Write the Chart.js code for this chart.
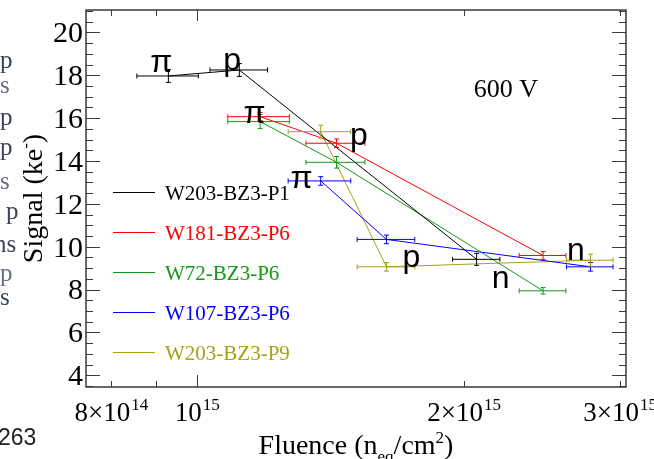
<!DOCTYPE html>
<html>
<head>
<meta charset="utf-8">
<script src="https://cdn.jsdelivr.net/npm/chart.js@4.4.1/dist/chart.umd.min.js"></script>
<style>
  html, body { margin: 0; padding: 0; background: #fff; }
  #wrap { width: 654px; height: 459px; position: relative; }
</style>
</head>
<body>
<div id="wrap"><canvas id="chart"></canvas></div>
<script>
// ---- data ----
const seriesNames = ['W203-BZ3-P1', 'W181-BZ3-P6', 'W72-BZ3-P6', 'W107-BZ3-P6', 'W203-BZ3-P9'];
const seriesColors = ['#000000', '#ff0000', '#129a12', '#0000ff', '#a3a314'];

// fluence (n_eq/cm2) with lower / upper error limits, signal (ke-) with error
const fluP1 = [9.29e14, 1.117e15, 2.069e15];
const fluP1Lo = [8.56e14, 1.035e15, 1.944e15];
const fluP1Hi = [1.004e15, 1.202e15, 2.198e15];
const sigP1 = [17.97, 18.25, 9.41];
const errP1 = [0.3, 0.3, 0.28];

const fluW181 = [1.179e15, 1.438e15, 2.459e15];
const fluW181Lo = [1.084e15, 1.328e15, 2.311e15];
const fluW181Hi = [1.272e15, 1.548e15, 2.609e15];
const sigW181 = [16.07, 14.83, 9.59];
const errW181 = [0.2, 0.2, 0.18];

const fluW72 = [1.179e15, 1.438e15, 2.459e15];
const fluW72Lo = [1.084e15, 1.328e15, 2.311e15];
const fluW72Hi = [1.272e15, 1.548e15, 2.609e15];
const sigW72 = [15.84, 13.94, 7.94];
const errW72 = [0.33, 0.27, 0.15];

const fluW107 = [1.38e15, 1.637e15, 2.781e15];
const fluW107Lo = [1.268e15, 1.517e15, 2.613e15];
const fluW107Hi = [1.492e15, 1.762e15, 2.949e15];
const sigW107 = [13.07, 10.34, 9.06];
const errW107 = [0.2, 0.2, 0.2];

const fluP9 = [1.38e15, 1.637e15, 2.781e15];
const fluP9Lo = [1.268e15, 1.517e15, 2.613e15];
const fluP9Hi = [1.492e15, 1.762e15, 2.949e15];
const sigP9 = [15.37, 9.06, 9.37];
const errP9 = [0.3, 0.2, 0.28];

// particle type labels next to points
const markLabels = ['\u03c0', 'p', '\u03c0', 'p', '\u03c0', 'p', 'n', 'n'];
const markX = [9.12e14, 1.096e15, 1.162e15, 1.524e15, 1.313e15, 1.747e15, 2.202e15, 2.677e15];
const markY = [18.17, 18.25, 15.76, 14.75, 12.72, 9.06, 8.05, 9.37];

// axis ticks
const yTickLabels = [4, 6, 8, 10, 12, 14, 16, 18, 20];
const xTickValues = [8e14, 1e15, 2e15, 3e15];
const xTickMant = ['8', '', '2', '3'];
const xTickExp = ['14', '15', '15', '15'];
const xMajorTicks = [1e15];
const xMinorTicks = [8e14, 9e14, 2e15, 3e15];

// stray text from the neighbouring page column
const strayText = ['p', 's', 'p', 'p', 's', 'p', 'ns', 'p', 's'];
const strayY = [68, 93, 125, 155, 189, 219, 252, 281, 305];
const strayX = [0, 0, 0, 0, 0, 6, -6, 0, 0];

const fluAll = [fluP1, fluW181, fluW72, fluW107, fluP9];
const fluLoAll = [fluP1Lo, fluW181Lo, fluW72Lo, fluW107Lo, fluP9Lo];
const fluHiAll = [fluP1Hi, fluW181Hi, fluW72Hi, fluW107Hi, fluP9Hi];
const sigAll = [sigP1, sigW181, sigW72, sigW107, sigP9];
const errAll = [errP1, errW181, errW72, errW107, errP9];

const datasets = seriesNames.map((name, i) => ({
  label: name,
  data: fluAll[i].map((f, j) => ({ x: f, y: sigAll[i][j] })),
  xLo: fluLoAll[i],
  xHi: fluHiAll[i],
  yErr: errAll[i],
  showLine: true,
  borderColor: seriesColors[i],
  borderWidth: 1,
  pointRadius: 0,
  tension: 0,
  fill: false
}));

const SERIF = '"Liberation Serif", "Times New Roman", serif';
const SANS = '"Liberation Sans", Arial, sans-serif';

// draws "m×10^e" centred at cx
function drawPow(ctx, mant, exp, cx, base) {
  const main = mant ? mant + '\u00d710' : '10';
  ctx.font = '27px ' + SERIF;
  const w1 = ctx.measureText(main).width;
  ctx.font = '17px ' + SERIF;
  const w2 = ctx.measureText(exp).width;
  const x0 = cx - (w1 + w2) / 2;
  ctx.textAlign = 'left';
  ctx.textBaseline = 'alphabetic';
  ctx.font = '27px ' + SERIF;
  ctx.fillText(main, x0, base);
  ctx.font = '17px ' + SERIF;
  ctx.fillText(exp, x0 + w1 + 1, base - 11);
}

// draws a run of [text, size, dy] pieces centred at cx
function drawPieces(ctx, pieces, cx, base) {
  let total = 0;
  pieces.forEach(p => { ctx.font = p[1] + 'px ' + SERIF; total += ctx.measureText(p[0]).width; });
  let x0 = cx - total / 2;
  ctx.textAlign = 'left';
  ctx.textBaseline = 'alphabetic';
  pieces.forEach(p => {
    ctx.font = p[1] + 'px ' + SERIF;
    ctx.fillText(p[0], x0, base + p[2]);
    x0 += ctx.measureText(p[0]).width;
  });
}

const rootStyle = {
  id: 'rootStyle',
  afterDatasetsDraw(chart) {
    const { ctx, chartArea: a, scales: { x, y } } = chart;
    ctx.save();

    // error bars
    ctx.save();
    ctx.beginPath();
    ctx.rect(a.left, a.top, a.right - a.left, a.bottom - a.top);
    ctx.clip();
    chart.data.datasets.forEach(ds => {
      ctx.strokeStyle = ds.borderColor;
      ctx.lineWidth = 1;
      ds.data.forEach((pt, j) => {
        const px = x.getPixelForValue(pt.x);
        const py = y.getPixelForValue(pt.y);
        const xl = x.getPixelForValue(ds.xLo[j]);
        const xh = x.getPixelForValue(ds.xHi[j]);
        const yt = y.getPixelForValue(pt.y + ds.yErr[j]);
        const yb = y.getPixelForValue(pt.y - ds.yErr[j]);
        ctx.beginPath();
        ctx.moveTo(xl, py); ctx.lineTo(xh, py);
        ctx.moveTo(xl, py - 2.5); ctx.lineTo(xl, py + 2.5);
        ctx.moveTo(xh, py - 2.5); ctx.lineTo(xh, py + 2.5);
        ctx.moveTo(px, yt); ctx.lineTo(px, yb);
        ctx.moveTo(px - 2.5, yt); ctx.lineTo(px + 2.5, yt);
        ctx.moveTo(px - 2.5, yb); ctx.lineTo(px + 2.5, yb);
        ctx.stroke();
      });
    });
    ctx.restore();

    // frame
    ctx.strokeStyle = '#3a3a3a';
    ctx.lineWidth = 1.5;
    ctx.strokeRect(a.left, a.top, a.right - a.left, a.bottom - a.top);

    // y ticks, both sides
    ctx.lineWidth = 1;
    ctx.beginPath();
    for (let v = 3.5; v <= 21; v += 0.5) {
      const py = Math.round(y.getPixelForValue(v)) + 0.5;
      const len = v % 2 === 0 ? 14 : 7;
      ctx.moveTo(a.left, py); ctx.lineTo(a.left + len, py);
      ctx.moveTo(a.right, py); ctx.lineTo(a.right - len, py);
    }
    // x ticks, bottom and top
    xMajorTicks.forEach(v => {
      const px = Math.round(x.getPixelForValue(v)) + 0.5;
      ctx.moveTo(px, a.bottom); ctx.lineTo(px, a.bottom - 12);
      ctx.moveTo(px, a.top); ctx.lineTo(px, a.top + 11);
    });
    xMinorTicks.forEach(v => {
      const px = Math.round(x.getPixelForValue(v)) + 0.5;
      ctx.moveTo(px, a.bottom); ctx.lineTo(px, a.bottom - 6);
      ctx.moveTo(px, a.top); ctx.lineTo(px, a.top + 6);
    });
    ctx.stroke();

    // tick labels
    ctx.fillStyle = '#000';
    ctx.font = '30px ' + SERIF;
    ctx.textAlign = 'right';
    ctx.textBaseline = 'middle';
    yTickLabels.forEach(v => ctx.fillText(String(v), a.left - 3, y.getPixelForValue(v) + 2));
    xTickValues.forEach((v, i) => drawPow(ctx, xTickMant[i], xTickExp[i], x.getPixelForValue(v), 421));

    // axis titles
    drawPieces(ctx, [['Fluence (n', 28, 0], ['eq', 17, 8], ['/cm', 28, 0], ['2', 17, -11], [')', 28, 0]],
      (a.left + a.right) / 2, 454);
    ctx.save();
    ctx.translate(42, (a.top + a.bottom) / 2);
    ctx.rotate(-Math.PI / 2);
    drawPieces(ctx, [['Signal (ke', 28, 0], ['-', 17, -11], [')', 28, 0]], 0, 0);
    ctx.restore();

    // particle labels
    ctx.font = '32px ' + SANS;
    ctx.textAlign = 'center';
    ctx.textBaseline = 'alphabetic';
    markLabels.forEach((t, i) => ctx.fillText(t, x.getPixelForValue(markX[i]), y.getPixelForValue(markY[i])));

    // voltage
    ctx.font = '26px ' + SERIF;
    ctx.fillText('600 V', x.getPixelForValue(2.232e15), y.getPixelForValue(17.0));

    // legend
    ctx.font = '21px ' + SERIF;
    ctx.textAlign = 'left';
    seriesNames.forEach((name, i) => {
      const ly = Math.round(a.top + 182 + i * 40) + 0.5;
      ctx.strokeStyle = seriesColors[i];
      ctx.lineWidth = 1;
      ctx.beginPath();
      ctx.moveTo(a.left + 27, ly); ctx.lineTo(a.left + 69, ly);
      ctx.stroke();
      ctx.fillStyle = seriesColors[i];
      ctx.fillText(name, a.left + 79, ly + 7.5);
    });

    // stray page text at the left edge
    ctx.font = '25px ' + SERIF;
    strayText.forEach((t, i) => {
      ctx.fillStyle = i % 3 === 1 ? '#6a7080' : '#3a4458';
      ctx.fillText(t, strayX[i], strayY[i]);
    });
    ctx.fillStyle = '#222';
    ctx.font = '23px ' + SANS;
    ctx.fillText('263', -2, 445);

    ctx.restore();
  }
};

new Chart(document.getElementById('chart'), {
  type: 'scatter',
  data: { datasets: datasets },
  options: {
    responsive: true,
    maintainAspectRatio: false,
    animation: false,
    layout: { padding: { top: 10, right: 28, left: 0, bottom: 0 } },
    plugins: { legend: { display: false }, tooltip: { enabled: false } },
    scales: {
      x: {
        type: 'logarithmic',
        min: 7.5e14,
        max: 3.05e15,
        ticks: { display: false },
        grid: { display: false },
        border: { display: false },
        afterFit(s) { s.height = 72; }
      },
      y: {
        min: 3.45,
        max: 21.05,
        ticks: { display: false },
        grid: { display: false },
        border: { display: false },
        afterFit(s) { s.width = 86; }
      }
    }
  },
  plugins: [rootStyle]
});
</script>
</body>
</html>
